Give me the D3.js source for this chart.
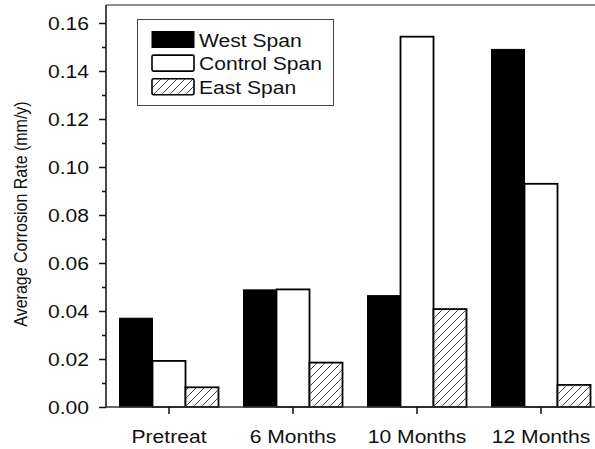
<!DOCTYPE html>
<html><head><meta charset="utf-8">
<script src="https://cdn.jsdelivr.net/npm/d3@7"></script>
<style>html,body{margin:0;padding:0;background:#fff;} svg{display:block;}</style>
</head><body>
<svg id="c" width="595" height="449"></svg>
<script>
const categories = ["Pretreat", "6 Months", "10 Months", "12 Months"];
const seriesNames = ["West Span", "Control Span", "East Span"];
const westSpan = [0.037, 0.0488, 0.0464, 0.149];
const controlSpan = [0.0192, 0.049, 0.1543, 0.093];
const eastSpan = [0.0082, 0.0185, 0.0408, 0.0092];
const yTicks = [0, 0.02, 0.04, 0.06, 0.08, 0.10, 0.12, 0.14, 0.16];
const yMinorTicks = [0.01, 0.03, 0.05, 0.07, 0.09, 0.11, 0.13, 0.15];
const yLabel = "Average Corrosion Rate (mm/y)";

(function(){
const seriesValues = [westSpan, controlSpan, eastSpan];
const SX = 1.14; // horizontal text stretch
const FS = 18.5;
const svg = d3.select("#c");
const font = "'Liberation Sans', Arial, sans-serif";

const defs = svg.append("defs");
const pat = defs.append("pattern").attr("id","hatch").attr("patternUnits","userSpaceOnUse")
  .attr("width",8).attr("height",8);
pat.append("rect").attr("width",8).attr("height",8).attr("fill","#fff");
pat.append("path").attr("d","M-2,2 L2,-2 M0,8 L8,0 M6,10 L10,6")
  .attr("stroke","#333").attr("stroke-width",0.9);

const fills = ["#000", "#fff", "url(#hatch)"];

const pLeft = 106, pTop = 5, pBottom = 407;
const y = d3.scaleLinear().domain([0, 0.1675]).range([pBottom, pTop]);
const x = d3.scaleBand().domain(categories).range([107, 603]).padding(0);
const xs = d3.scaleBand().domain(seriesNames).range([12.5, x.bandwidth() - 12.5]).padding(0);

const g = svg.append("g");
categories.forEach((c, i) => {
  seriesNames.forEach((s, j) => {
    const v = seriesValues[j][i];
    g.append("rect")
      .attr("x", x(c) + xs(s))
      .attr("y", y(v))
      .attr("width", xs.bandwidth())
      .attr("height", y(0) - y(v))
      .attr("fill", fills[j])
      .attr("stroke", "#000")
      .attr("stroke-width", j === 0 ? 1 : 1.8);
  });
});

svg.append("line").attr("x1", pLeft).attr("x2", 595).attr("y1", pTop).attr("y2", pTop)
  .attr("stroke", "#222").attr("stroke-width", 1.2);

const yAxis = d3.axisLeft(y).tickValues(yTicks).tickSize(7).tickFormat(d3.format(".2f"));
const ya = svg.append("g").attr("transform", `translate(${pLeft},0)`).call(yAxis);
ya.select(".domain").attr("d", `M0,${pTop}V${pBottom}`).attr("stroke","#111").attr("stroke-width",1.5);
ya.selectAll(".tick line").attr("stroke","#111").attr("stroke-width",1.5);
ya.selectAll(".tick text").attr("x", null).attr("dy", null)
  .attr("font-family", font).attr("font-size", FS).attr("fill","#111")
  .attr("text-anchor","end").attr("dominant-baseline","central")
  .attr("transform", `translate(-17,0) scale(${SX},1)`);
const yMinor = d3.axisLeft(y).tickValues(yMinorTicks).tickSize(4).tickFormat("");
const ym = svg.append("g").attr("transform", `translate(${pLeft},0)`).call(yMinor);
ym.select(".domain").remove();
ym.selectAll(".tick line").attr("stroke","#111").attr("stroke-width",1.5);

const xAxis = d3.axisBottom(x).tickSize(7).tickSizeOuter(0);
const xa = svg.append("g").attr("transform", `translate(0,${pBottom})`).call(xAxis);
xa.select(".domain").attr("d", `M${pLeft},0H595`).attr("stroke","#333").attr("stroke-width",1.5);
xa.selectAll(".tick line").attr("stroke","#111").attr("stroke-width",1.5);
xa.selectAll(".tick text").attr("y", null).attr("dy", null)
  .attr("font-family", font).attr("font-size", FS).attr("fill","#111")
  .attr("text-anchor","middle")
  .attr("transform", `translate(0,36) scale(${SX},1)`);

svg.append("text").text(yLabel)
  .attr("font-family", font).attr("font-size", 16).attr("fill","#111")
  .attr("text-anchor","middle").attr("dominant-baseline","central")
  .attr("transform", `translate(21,214) scale(${SX},1) rotate(-90)`);

const lg = svg.append("g");
lg.append("rect").attr("x",137.5).attr("y",19.5).attr("width",196).attr("height",86)
  .attr("fill","#fff").attr("stroke","#444").attr("stroke-width",1);
seriesNames.forEach((s, j) => {
  const yy = 31.5 + j * 23.6;
  lg.append("rect").attr("x",152).attr("y",yy).attr("width",42).attr("height",16)
    .attr("fill", fills[j]).attr("stroke","#000").attr("stroke-width", j === 0 ? 1 : 1.6)
    .attr("rx", j === 0 ? 0 : 1.5);
  lg.append("text").text(s).attr("font-family", font).attr("font-size", FS).attr("fill","#111")
    .attr("transform", `translate(199,${yy + 15}) scale(${SX},1)`);
});
})();
</script>
</body></html>
